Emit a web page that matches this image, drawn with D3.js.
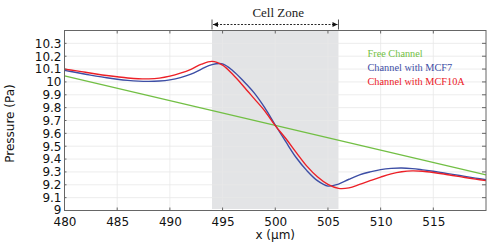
<html>
<head>
<script src="https://d3js.org/d3.v7.min.js"></script>
<style>
  body { margin: 0; background: #fff; }
</style>
</head>
<body>
<svg id="chart" width="496" height="247"></svg>
<script>
// positions along the channel (um)
var xs = [480, 481, 482, 483, 484, 485, 486, 487, 488, 489, 490,
          491, 492, 493, 494, 495, 496, 497, 498, 499, 500,
          501, 502, 503, 504, 505, 506, 507, 508, 509, 510,
          511, 512, 513, 514, 515, 516, 517, 518, 519, 520];

var mcf7 = [10.09, 10.075, 10.06, 10.045, 10.032, 10.021, 10.012, 10.006, 10.004, 10.007, 10.016,
            10.033, 10.06, 10.1, 10.135, 10.14, 10.085, 10.005, 9.915, 9.80, 9.665,
            9.535, 9.41, 9.31, 9.232, 9.19, 9.205, 9.243, 9.277, 9.30, 9.318,
            9.328, 9.331, 9.326, 9.316, 9.305, 9.292, 9.279, 9.265, 9.252, 9.24];

var mcf10a = [10.1, 10.088, 10.075, 10.062, 10.05, 10.04, 10.031, 10.025, 10.024, 10.03, 10.045,
              10.068, 10.098, 10.138, 10.16, 10.13, 10.055, 9.965, 9.87, 9.775, 9.66,
              9.56, 9.45, 9.345, 9.262, 9.203, 9.172, 9.176, 9.203, 9.232, 9.26,
              9.285, 9.301, 9.308, 9.305, 9.296, 9.284, 9.27, 9.257, 9.244, 9.232];

var freeX = [480, 520];
var freeP = [10.047, 9.277];

var xTicks = [480, 485, 490, 495, 500, 505, 510, 515];
var yTicks = [9, 9.1, 9.2, 9.3, 9.4, 9.5, 9.6, 9.7, 9.8, 9.9, 10, 10.1, 10.2, 10.3];
var cellZone = [494, 506];

var legendNames = ["Free Channel", "Channel with MCF7", "Channel with MCF10A"];
var colors = ["#72bf44", "#3d4ea5", "#ec2027"];

var margin = {top: 30.5, right: 10, bottom: 36.5, left: 64.5};
var width = 496 - margin.left - margin.right,
    height = 247 - margin.top - margin.bottom;

var svg = d3.select("#chart");
var g = svg.append("g")
    .attr("transform", "translate(" + margin.left + "," + margin.top + ")");

var x = d3.scaleLinear().domain([480, 520]).range([0, width]);
var y = d3.scaleLinear().domain([9, 10.4]).range([height, 0]);

// cell zone shading
g.append("rect")
    .attr("x", x(cellZone[0]))
    .attr("y", 0)
    .attr("width", x(cellZone[1]) - x(cellZone[0]))
    .attr("height", height - 1.5)
    .attr("fill", "#e3e4e6");

// grid
g.selectAll(".vgrid").data(xTicks.slice(1)).enter().append("line")
    .attr("x1", function(d) { return x(d); })
    .attr("x2", function(d) { return x(d); })
    .attr("y1", 0).attr("y2", height)
    .attr("stroke", "#e9e9e9").attr("stroke-width", 0.8);
g.selectAll(".hgrid").data(yTicks.slice(1)).enter().append("line")
    .attr("x1", 0).attr("x2", width)
    .attr("y1", function(d) { return y(d); })
    .attr("y2", function(d) { return y(d); })
    .attr("stroke", "#e9e9e9").attr("stroke-width", 0.8);

// lines
var line = d3.line()
    .x(function(d) { return x(d[0]); })
    .y(function(d) { return y(d[1]); })
    .curve(d3.curveCatmullRom.alpha(0.5));

var series = [
    d3.zip(freeX, freeP),
    d3.zip(xs, mcf7),
    d3.zip(xs, mcf10a)
];

g.selectAll(".series").data(series).enter().append("path")
    .attr("d", line)
    .attr("fill", "none")
    .attr("stroke", function(d, i) { return colors[i]; })
    .attr("stroke-width", 1.4);

// frame and inward ticks
var axisColor = "#666";
g.append("rect")
    .attr("x", 0).attr("y", 0)
    .attr("width", width).attr("height", height)
    .attr("fill", "none").attr("stroke", axisColor).attr("stroke-width", 1);

g.selectAll(".tb").data(xTicks.slice(1)).enter().append("line")
    .attr("x1", function(d) { return x(d); })
    .attr("x2", function(d) { return x(d); })
    .attr("y1", height).attr("y2", height - 3)
    .attr("stroke", axisColor);
g.selectAll(".tt").data(xTicks.slice(1)).enter().append("line")
    .attr("x1", function(d) { return x(d); })
    .attr("x2", function(d) { return x(d); })
    .attr("y1", 0).attr("y2", 3)
    .attr("stroke", axisColor);
g.selectAll(".tl").data(yTicks.slice(1)).enter().append("line")
    .attr("x1", 0).attr("x2", 2)
    .attr("y1", function(d) { return y(d); })
    .attr("y2", function(d) { return y(d); })
    .attr("stroke", axisColor);
g.selectAll(".tr").data(yTicks.slice(1)).enter().append("line")
    .attr("x1", width).attr("x2", width - 4)
    .attr("y1", function(d) { return y(d); })
    .attr("y2", function(d) { return y(d); })
    .attr("stroke", axisColor);

// axis labels
var xAxis = g.append("g")
    .attr("transform", "translate(0," + height + ")")
    .call(d3.axisBottom(x).tickValues(xTicks).tickSize(0).tickPadding(7).tickFormat(d3.format("d")));
var yAxis = g.append("g")
    .call(d3.axisLeft(y).tickValues(yTicks).tickSize(0).tickPadding(3).tickFormat(function(d) { return +d.toFixed(1); }));

[xAxis, yAxis].forEach(function(a) {
    a.select(".domain").remove();
    a.selectAll("text")
        .attr("font-family", "DejaVu Sans")
        .attr("font-size", 12)
        .attr("fill", "#111");
});
yAxis.selectAll(".tick").filter(function(d) { return d === 9; })
    .select("text").attr("dy", "0.25em");

g.append("text")
    .attr("x", width / 2)
    .attr("y", height + 28)
    .attr("text-anchor", "middle")
    .attr("font-family", "DejaVu Sans")
    .attr("font-size", 12)
    .attr("fill", "#111")
    .text("x (\u00b5m)");

g.append("text")
    .attr("transform", "translate(" + (-51) + "," + (height / 2 + 3) + ") rotate(-90)")
    .attr("text-anchor", "middle")
    .attr("font-family", "DejaVu Sans")
    .attr("font-size", 12)
    .attr("fill", "#111")
    .text("Pressure (Pa)");

// cell zone marker
var defs = svg.append("defs");
defs.append("marker")
    .attr("id", "head")
    .attr("viewBox", "0 0 10 10")
    .attr("refX", 10).attr("refY", 5)
    .attr("markerWidth", 9).attr("markerHeight", 5)
    .attr("markerUnits", "userSpaceOnUse")
    .attr("orient", "auto-start-reverse")
    .append("path")
    .attr("d", "M0,0L10,5L0,10Z")
    .attr("fill", "#111");

var zx0 = x(cellZone[0]), zx1 = x(cellZone[1]);
g.append("line")
    .attr("x1", zx0 + 1).attr("x2", zx1 - 1)
    .attr("y1", -6).attr("y2", -6)
    .attr("stroke", "#111").attr("stroke-width", 0.9)
    .attr("stroke-dasharray", "2,1.5")
    .attr("marker-start", "url(#head)")
    .attr("marker-end", "url(#head)");
[zx0, zx1].forEach(function(px) {
    g.append("line")
        .attr("x1", px).attr("x2", px)
        .attr("y1", -11).attr("y2", -1)
        .attr("stroke", "#555").attr("stroke-width", 1);
});
g.append("text")
    .attr("x", (zx0 + zx1) / 2 + 3)
    .attr("y", -13.5)
    .attr("text-anchor", "middle")
    .attr("font-family", "Liberation Serif")
    .attr("font-size", 13)
    .attr("fill", "#222")
    .text("Cell Zone");

// legend
g.selectAll(".legend").data(legendNames).enter().append("text")
    .attr("x", 303)
    .attr("y", function(d, i) { return 26.5 + i * 13.8; })
    .attr("font-family", "Liberation Serif")
    .attr("font-size", 10.3)
    .attr("fill", function(d, i) { return colors[i]; })
    .text(function(d) { return d; });
</script>
</body>
</html>
